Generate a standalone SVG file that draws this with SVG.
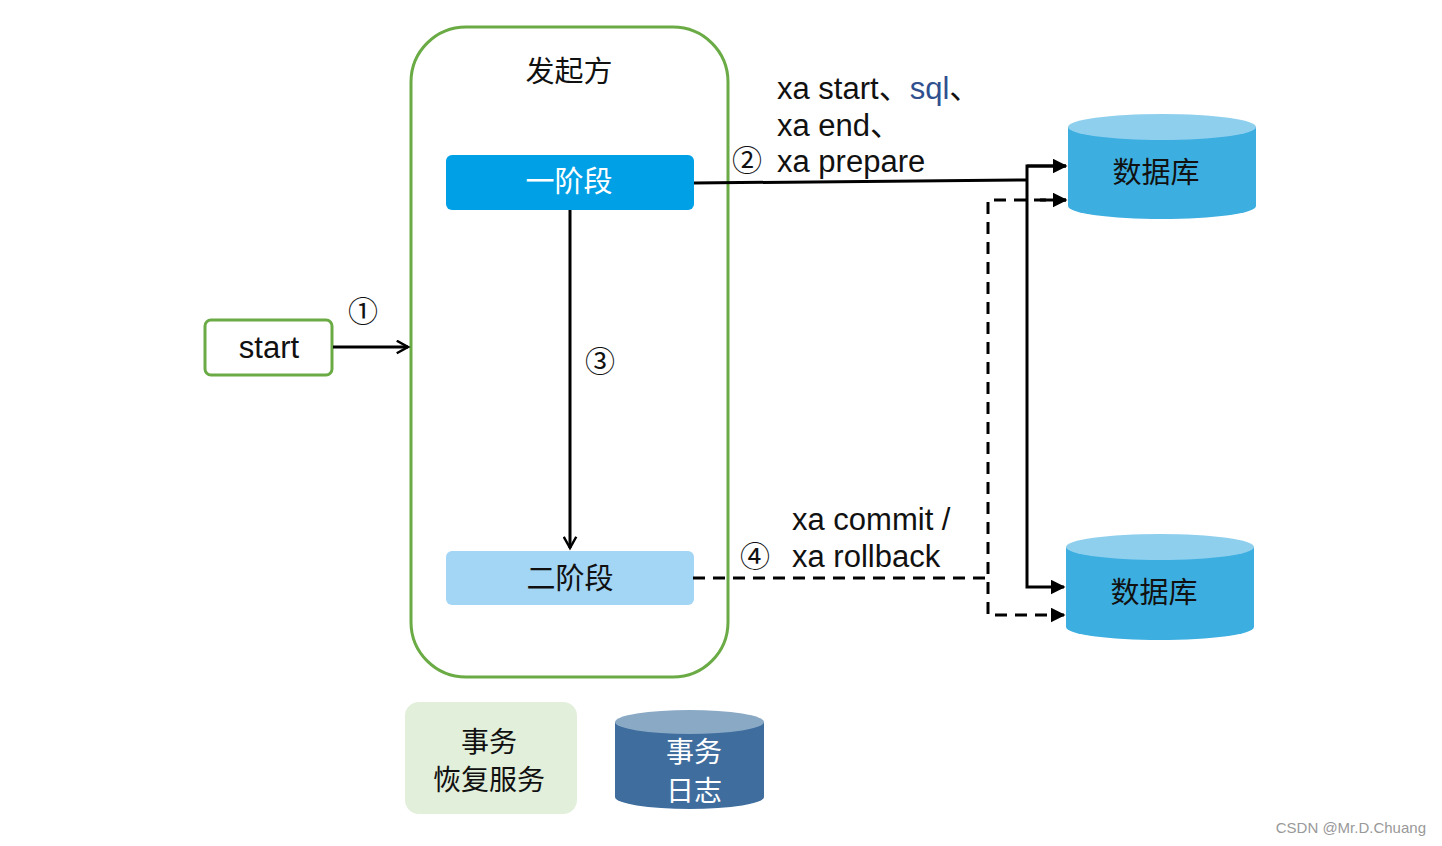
<svg xmlns="http://www.w3.org/2000/svg" width="1442" height="846" viewBox="0 0 1442 846">
<style>
text{font-family:"Noto Sans CJK SC","Liberation Sans",sans-serif;fill:#111}
.t{font-size:29px}
.s{font-size:28px}
.l{font-size:31px;font-family:"Liberation Sans","Noto Sans CJK SC",sans-serif}
.n{font-size:30px;font-family:"Noto Sans CJK SC",sans-serif}
.c{stroke:#000;stroke-width:3;fill:none}
.d{stroke-dasharray:12,8}
</style>
<defs>
<marker id="a" viewBox="0 0 10 10" refX="9" refY="5" markerWidth="5" markerHeight="5" orient="auto" markerUnits="strokeWidth"><path d="M0,0 L10,5 L0,10 z" fill="#000"/></marker>
<marker id="o" viewBox="0 0 12 12" refX="10" refY="6" markerWidth="5" markerHeight="5" orient="auto" markerUnits="strokeWidth"><path d="M1,1 L10,6 L1,11" fill="none" stroke="#000" stroke-width="2"/></marker>
</defs>
<rect width="1442" height="846" fill="#fff"/>
<g id="initiator"><rect x="411" y="27" width="317" height="650" rx="55" fill="none" stroke="#6aab45" stroke-width="3"/><text x="569" y="82" text-anchor="middle" class="t">发起方</text></g>
<g id="start"><rect x="205" y="320" width="127" height="55" rx="6" fill="#fff" stroke="#6aab45" stroke-width="3"/><text x="269" y="358" text-anchor="middle" class="l">start</text></g>
<g id="phase1"><rect x="446" y="155" width="248" height="55" rx="6" fill="#00a0e6"/><text x="569" y="192" text-anchor="middle" class="t" style="fill:#fff">一阶段</text></g>
<g id="phase2"><rect x="446" y="551" width="248" height="54" rx="6" fill="#a3d5f5"/><text x="570" y="589" text-anchor="middle" class="t">二阶段</text></g>
<g id="db1"><path d="M1068,127 V206 A94,13 0 0 0 1256,206 V127 Z" fill="#3daee0"/><ellipse cx="1162" cy="127" rx="94" ry="13" fill="#8ecfee"/><text x="1156" y="183" text-anchor="middle" class="t">数据库</text></g>
<g id="db2"><path d="M1066,547 V627 A94,13 0 0 0 1254,627 V547 Z" fill="#3daee0"/><ellipse cx="1160" cy="547" rx="94" ry="13" fill="#8ecfee"/><text x="1154" y="603" text-anchor="middle" class="t">数据库</text></g>
<g id="recovery"><rect x="405" y="702" width="172" height="112" rx="14" fill="#e2efda"/><text x="489" y="752" text-anchor="middle" class="s">事务</text><text x="489" y="790" text-anchor="middle" class="s">恢复服务</text></g>
<g id="txlog"><path d="M615,722 V797 A74.5,12 0 0 0 764,797 V722 Z" fill="#3f6e9e"/><ellipse cx="689.5" cy="722" rx="74.5" ry="12" fill="#8aa9c5"/><text x="694" y="762" text-anchor="middle" class="s" style="fill:#fff">事务</text><text x="694" y="801" text-anchor="middle" class="s" style="fill:#fff">日志</text></g>
<g id="connectors">
<path class="c" d="M333,347 H408" marker-end="url(#o)"/>
<path class="c" d="M570,210 V548" marker-end="url(#o)"/>
<path class="c" d="M694,183 L1027,180"/>
<path class="c" d="M1066,166 H1027 V587 H1064" marker-end="url(#a)"/>
<path class="c" d="M1027,166 H1066" marker-end="url(#a)"/>
<path class="c d" d="M693,578 H988"/>
<path class="c d" d="M1066,200 H988 V615 H1064" marker-end="url(#a)"/>
<path class="c" d="M1040,200 H1066" marker-end="url(#a)"/>
</g>
<g id="labels">
<text x="363" y="322" text-anchor="middle" class="n">①</text>
<text x="747" y="171" text-anchor="middle" class="n">②</text>
<text x="600" y="372" text-anchor="middle" class="n">③</text>
<text x="755" y="567" text-anchor="middle" class="n">④</text>
<text x="777" y="99" class="l">xa start、<tspan style="fill:#2f4f8f">sql</tspan>、</text>
<text x="777" y="136" class="l">xa end、</text>
<text x="777" y="172" class="l">xa prepare</text>
<text x="792" y="530" class="l">xa commit /</text>
<text x="792" y="567" class="l">xa rollback</text>
</g>
<text x="1426" y="833" text-anchor="end" style="font-family:'Liberation Sans',sans-serif;font-size:15px;fill:#999">CSDN @Mr.D.Chuang</text>
</svg>
